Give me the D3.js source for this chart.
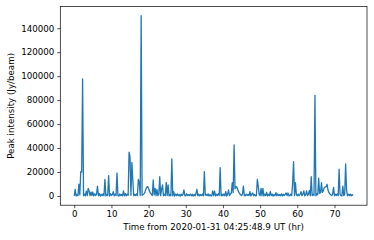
<!DOCTYPE html>
<html>
<head>
<meta charset="utf-8">
<script src="https://cdn.jsdelivr.net/npm/d3@7"></script>
<style>
  body { margin: 0; background: #fff; }
  text { font-family: "DejaVu Sans", sans-serif; }
</style>
</head>
<body>
<svg id="chart" width="374" height="240"></svg>
<script>
// Sampling grid (hours from 2020-01-31 04:25:48.9 UT)
const startHour = 0;
const stepHours = 0.25;

// Peak intensity (Jy/beam), one row per hour (4 samples each)
const peakIntensity = [
  100, 5600, 0, 1400,
  200, 9800, 900, 20300,
  20000, 97700, 250, 1600,
  50, 4000, 300, 6400,
  4200, 300, 3300, 350,
  3300, 150, 1800, 400,
  1500, 8300, 200, 2000,
  -100, 1300, 300, 1800,
  250, 13900, 100, 1400,
  350, 17000, 0, 1900,
  400, 1200, 3600, 200,
  1500, 300, 19200, 450,
  -150, 1700, 350, 1300,
  200, 4200, 150, 2000,
  300, 1500, 500, 36500,
  32800, 600, 28100, 13400,
  200, 1400, 400, 1800,
  300, 13900, 11000, 350,
  150500, 600, 1000, 1800,
  3000, 5500, 7400, 7800,
  6200, 4000, 2400, 1300,
  400, 13400, 1000, 6400,
  250, 5600, 350, 1500,
  16100, 300, 5800, 9200,
  200, 1400, 400, 11400,
  350, 9200, 100, 1200,
  200, 30900, 150, 3600,
  0, 1500, 300, 1800,
  300, 1200, -100, 1600,
  300, 1400, 5000, 250,
  100, 1900, 400, 1100,
  400, 1600, 200, 1500,
  -150, 1300, 250, 2000,
  5600, 350, 1500, 150,
  1200, 300, 1700, 250,
  20300, 700, 1400, 300,
  1800, 0, 1200, 200,
  200, 4200, 300, 4000,
  100, 1500, 400, 1900,
  400, 23600, 150, 1500,
  250, 1700, 200, 3600,
  0, 1400, 5000, 300,
  1500, 2500, 11100, 2800,
  42600, 6000, 7800, 7500,
  5200, 3200, 1900, 1000,
  350, 1500, 8300, 300,
  150, 1600, 400, 1300,
  300, 3600, 100, 1500,
  2500, 200, 1400, 200,
  250, 13900, 8300, 1000,
  350, 6400, 200, 6400,
  150, 1500, 400, 3000,
  0, 1400, 400, 3600,
  300, 1600, -100, 1200,
  300, 2800, 200, 1700,
  250, 1300, 200, 1800,
  100, 1500, 350, 1400,
  2500, 300, 2500, 150,
  300, 1500, 400, 10600,
  28700, 250, 11100, 1100,
  200, 1600, 300, 1400,
  3600, 300, 1300, 4200,
  100, 1200, 4200, 350,
  1500, 4700, 200, 16100,
  400, 1500, 500, 84000,
  200, 1900, 1000, 14800,
  2200, 2800, 11100, 3000,
  4500, 6900, 7500, 7800,
  9800, 5000, 3000, 1800,
  1000, 350, 1400, 7200,
  200, 1500, 400, 1800,
  250, 22300, 1500, 300,
  150, 8300, 300, 1500,
  26700, 5000, 200, 1500,
  350, 1600, 100, 1200,
  300
];

const xTicks = [0, 10, 20, 30, 40, 50, 60, 70];
const yTicks = [0, 20000, 40000, 60000, 80000, 100000, 120000, 140000];
const xLabel = "Time from 2020-01-31 04:25:48.9 UT (hr)";
const yLabel = "Peak intensity (Jy/beam)";

const data = peakIntensity.map((v, i) => ({ t: startHour + i * stepHours, v }));

const svg = d3.select("#chart");
const mLeft = 60.3, mRight = 367, mTop = 6.6, mBottom = 205.2;

const pad = (ext) => { const s = ext[1] - ext[0]; return [ext[0] - 0.05 * s, ext[1] + 0.05 * s]; };
const x = d3.scaleLinear().domain(pad(d3.extent(data, d => d.t))).range([mLeft, mRight]);
const y = d3.scaleLinear().domain(pad(d3.extent(data, d => d.v))).range([mBottom, mTop]);

const fs = 8.7;

// line
svg.append("path")
  .datum(data)
  .attr("fill", "none")
  .attr("stroke", "#1f77b4")
  .attr("stroke-width", 1.3)
  .attr("stroke-linejoin", "round")
  .attr("d", d3.line().x(d => x(d.t)).y(d => y(d.v)));

// axes
const xAxis = svg.append("g")
  .attr("transform", `translate(0,${mBottom})`)
  .call(d3.axisBottom(x).tickValues(xTicks).tickSize(3).tickPadding(3).tickFormat(d3.format("d")));
const yAxis = svg.append("g")
  .attr("transform", `translate(${mLeft},0)`)
  .call(d3.axisLeft(y).tickValues(yTicks).tickSize(3).tickPadding(3).tickFormat(d3.format("d")));

[xAxis, yAxis].forEach(g => {
  g.select(".domain").remove();
  g.selectAll(".tick line").attr("stroke", "#000").attr("stroke-width", 0.7);
  g.selectAll(".tick text").attr("fill", "#000").style("font-size", fs + "px")
    .style("font-family", "DejaVu Sans, sans-serif");
});

// frame
svg.append("rect")
  .attr("x", mLeft).attr("y", mTop)
  .attr("width", mRight - mLeft).attr("height", mBottom - mTop)
  .attr("fill", "none").attr("stroke", "#000").attr("stroke-width", 0.7);

// labels
svg.append("text")
  .attr("x", (mLeft + mRight) / 2).attr("y", 230.3)
  .attr("text-anchor", "middle")
  .style("font-size", fs + "px")
  .text(xLabel);

svg.append("text")
  .attr("transform", `translate(13.5,${(mTop + mBottom) / 2}) rotate(-90)`)
  .attr("text-anchor", "middle")
  .style("font-size", fs + "px")
  .text(yLabel);
</script>
</body>
</html>
